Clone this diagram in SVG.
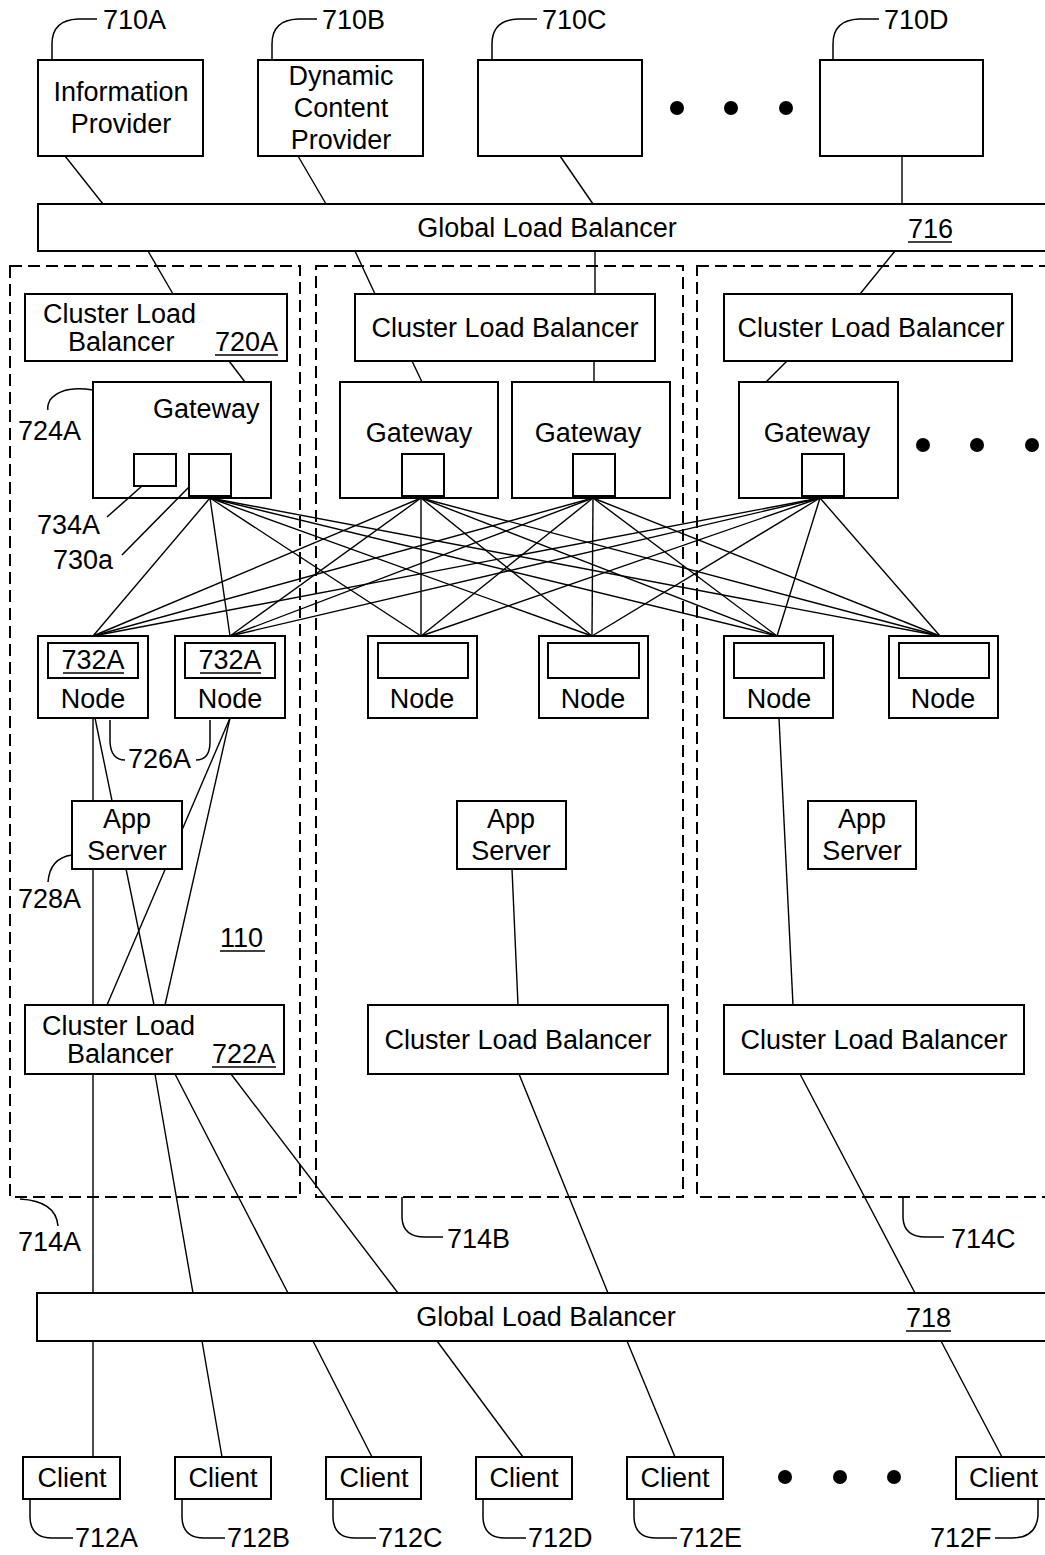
<svg xmlns="http://www.w3.org/2000/svg" width="1045" height="1555" viewBox="0 0 1045 1555">
<style>
text{font-family:"Liberation Sans",Arial,sans-serif;font-size:27px;fill:#000}
.m{text-anchor:middle}
.box{fill:#fff;stroke:#000;stroke-width:2}
.inner{fill:#fff;stroke:#000;stroke-width:2}
.cl{fill:none;stroke:#000;stroke-width:2;stroke-dasharray:12 6}
.ln{fill:none;stroke:#000;stroke-width:1.4}
.ld{fill:none;stroke:#000;stroke-width:1.5}
.ul{stroke:#000;stroke-width:1.5}
</style>
<rect width="1045" height="1555" fill="#fff"/>

<g id="clusters">
<rect id="cluster-714A" class="cl" x="10" y="266" width="290" height="931"/>
<rect id="cluster-714B" class="cl" x="316" y="266" width="367" height="931"/>
<rect id="cluster-714C" class="cl" x="697" y="266" width="370" height="931"/>
</g>

<g id="connectors">
<line class="ln" x1="65" y1="156" x2="103" y2="204"/>
<line class="ln" x1="298" y1="156" x2="326" y2="204"/>
<line class="ln" x1="560" y1="156" x2="593" y2="204"/>
<line class="ln" x1="902" y1="156" x2="902" y2="204"/>
<line class="ln" x1="148" y1="251" x2="173" y2="294"/>
<line class="ln" x1="355" y1="251" x2="375" y2="294"/>
<line class="ln" x1="595" y1="251" x2="595" y2="294"/>
<line class="ln" x1="895" y1="251" x2="860" y2="294"/>
<line class="ln" x1="229" y1="361" x2="245" y2="382"/>
<line class="ln" x1="412" y1="361" x2="422" y2="382"/>
<line class="ln" x1="594" y1="361" x2="594" y2="382"/>
<line class="ln" x1="787" y1="361" x2="766" y2="382"/>
<g id="mesh">
<line class="ln" x1="210" y1="498" x2="93" y2="636"/><line class="ln" x1="210" y1="498" x2="230" y2="636"/><line class="ln" x1="210" y1="498" x2="421" y2="636"/><line class="ln" x1="210" y1="498" x2="592" y2="636"/><line class="ln" x1="210" y1="498" x2="777" y2="636"/><line class="ln" x1="210" y1="498" x2="940" y2="636"/>
<line class="ln" x1="421" y1="498" x2="93" y2="636"/><line class="ln" x1="421" y1="498" x2="230" y2="636"/><line class="ln" x1="421" y1="498" x2="421" y2="636"/><line class="ln" x1="421" y1="498" x2="592" y2="636"/><line class="ln" x1="421" y1="498" x2="777" y2="636"/><line class="ln" x1="421" y1="498" x2="940" y2="636"/>
<line class="ln" x1="593" y1="498" x2="93" y2="636"/><line class="ln" x1="593" y1="498" x2="230" y2="636"/><line class="ln" x1="593" y1="498" x2="421" y2="636"/><line class="ln" x1="593" y1="498" x2="592" y2="636"/><line class="ln" x1="593" y1="498" x2="777" y2="636"/><line class="ln" x1="593" y1="498" x2="940" y2="636"/>
<line class="ln" x1="820" y1="498" x2="93" y2="636"/><line class="ln" x1="820" y1="498" x2="230" y2="636"/><line class="ln" x1="820" y1="498" x2="421" y2="636"/><line class="ln" x1="820" y1="498" x2="592" y2="636"/><line class="ln" x1="820" y1="498" x2="777" y2="636"/><line class="ln" x1="820" y1="498" x2="940" y2="636"/>
</g>
<line class="ln" x1="93" y1="718" x2="93" y2="1457"/>
<line class="ln" x1="95" y1="718" x2="154" y2="1005"/>
<line class="ln" x1="230" y1="718" x2="107" y2="1005"/>
<line class="ln" x1="230" y1="718" x2="165" y2="1005"/>
<line class="ln" x1="512" y1="869" x2="518" y2="1005"/>
<line class="ln" x1="779" y1="718" x2="793" y2="1005"/>
<line class="ln" x1="155" y1="1074" x2="193" y2="1293"/>
<line class="ln" x1="175" y1="1074" x2="288" y2="1293"/>
<line class="ln" x1="231" y1="1074" x2="398" y2="1293"/>
<line class="ln" x1="519" y1="1074" x2="608" y2="1293"/>
<line class="ln" x1="800" y1="1074" x2="915" y2="1293"/>
<line class="ln" x1="202" y1="1341" x2="222" y2="1457"/>
<line class="ln" x1="313" y1="1341" x2="372" y2="1457"/>
<line class="ln" x1="437" y1="1341" x2="523" y2="1457"/>
<line class="ln" x1="627" y1="1341" x2="675" y2="1457"/>
<line class="ln" x1="941" y1="1341" x2="1002" y2="1457"/>
</g>

<g id="provider-710A"><rect class="box" x="38" y="60" width="165" height="96"/><text class="m" x="121" y="101">Information</text><text class="m" x="121" y="133">Provider</text></g>
<g id="provider-710B"><rect class="box" x="258" y="60" width="165" height="96"/><text class="m" x="341" y="85">Dynamic</text><text class="m" x="341" y="117">Content</text><text class="m" x="341" y="149">Provider</text></g>
<g id="provider-710C"><rect class="box" x="478" y="60" width="164" height="96"/></g>
<g id="provider-710D"><rect class="box" x="820" y="60" width="163" height="96"/></g>
<g id="dots-top"><circle cx="677" cy="108" r="7"/><circle cx="731" cy="108" r="7"/><circle cx="786" cy="108" r="7"/></g>

<g id="glb-716"><rect class="box" x="38" y="204" width="1020" height="47"/><text class="m" x="547" y="237">Global Load Balancer</text><text x="908" y="238">716</text><line class="ul" x1="908" y1="242" x2="952" y2="242"/></g>

<g id="clb-720A"><rect class="box" x="25" y="294" width="262" height="67"/><text x="43" y="323">Cluster Load</text><text x="68" y="351">Balancer</text><text x="215" y="351">720A</text><line class="ul" x1="215" y1="355" x2="278" y2="355"/></g>
<g id="clb-B-top"><rect class="box" x="355" y="294" width="300" height="67"/><text class="m" x="505" y="337">Cluster Load Balancer</text></g>
<g id="clb-C-top"><rect class="box" x="724" y="294" width="288" height="67"/><text class="m" x="871" y="337">Cluster Load Balancer</text></g>

<g id="gateway-724A"><rect class="box" x="93" y="382" width="178" height="116"/><text x="153" y="418">Gateway</text><rect class="inner" x="134" y="454" width="42" height="32"/><rect class="inner" x="189" y="454" width="42" height="42"/></g>
<g id="gateway-B1"><rect class="box" x="340" y="382" width="158" height="116"/><text class="m" x="419" y="442">Gateway</text><rect class="inner" x="402" y="454" width="42" height="42"/></g>
<g id="gateway-B2"><rect class="box" x="512" y="382" width="158" height="116"/><text class="m" x="588" y="442">Gateway</text><rect class="inner" x="573" y="454" width="42" height="42"/></g>
<g id="gateway-C"><rect class="box" x="739" y="382" width="159" height="116"/><text class="m" x="817" y="442">Gateway</text><rect class="inner" x="802" y="454" width="42" height="42"/></g>
<g id="dots-gw"><circle cx="923" cy="445" r="7"/><circle cx="977" cy="445" r="7"/><circle cx="1032" cy="445" r="7"/></g>

<g id="node-1"><rect class="box" x="38" y="636" width="110" height="82"/><rect class="inner" x="48" y="643" width="90" height="35"/><text class="m" x="93" y="669">732A</text><line class="ul" x1="63" y1="673" x2="124" y2="673"/><text class="m" x="93" y="708">Node</text></g>
<g id="node-2"><rect class="box" x="175" y="636" width="110" height="82"/><rect class="inner" x="185" y="643" width="90" height="35"/><text class="m" x="230" y="669">732A</text><line class="ul" x1="200" y1="673" x2="261" y2="673"/><text class="m" x="230" y="708">Node</text></g>
<g id="node-3"><rect class="box" x="368" y="636" width="109" height="82"/><rect class="inner" x="378" y="643" width="90" height="35"/><text class="m" x="422" y="708">Node</text></g>
<g id="node-4"><rect class="box" x="539" y="636" width="109" height="82"/><rect class="inner" x="548" y="643" width="91" height="35"/><text class="m" x="593" y="708">Node</text></g>
<g id="node-5"><rect class="box" x="724" y="636" width="109" height="82"/><rect class="inner" x="734" y="643" width="90" height="35"/><text class="m" x="779" y="708">Node</text></g>
<g id="node-6"><rect class="box" x="889" y="636" width="109" height="82"/><rect class="inner" x="899" y="643" width="90" height="35"/><text class="m" x="943" y="708">Node</text></g>

<g id="app-728A"><rect class="box" x="72" y="801" width="110" height="68"/><text class="m" x="127" y="828">App</text><text class="m" x="127" y="860">Server</text></g>
<g id="app-B"><rect class="box" x="457" y="801" width="109" height="68"/><text class="m" x="511" y="828">App</text><text class="m" x="511" y="860">Server</text></g>
<g id="app-C"><rect class="box" x="808" y="801" width="108" height="68"/><text class="m" x="862" y="828">App</text><text class="m" x="862" y="860">Server</text></g>

<g id="label-110"><text x="220" y="947">110</text><line class="ul" x1="220" y1="951" x2="265" y2="951"/></g>

<g id="clb-722A"><rect class="box" x="25" y="1005" width="259" height="69"/><text x="42" y="1035">Cluster Load</text><text x="67" y="1063">Balancer</text><text x="212" y="1063">722A</text><line class="ul" x1="212" y1="1067" x2="276" y2="1067"/></g>
<g id="clb-B-bottom"><rect class="box" x="368" y="1005" width="300" height="69"/><text class="m" x="518" y="1049">Cluster Load Balancer</text></g>
<g id="clb-C-bottom"><rect class="box" x="724" y="1005" width="300" height="69"/><text class="m" x="874" y="1049">Cluster Load Balancer</text></g>

<g id="glb-718"><rect class="box" x="37" y="1293" width="1020" height="48"/><text class="m" x="546" y="1326">Global Load Balancer</text><text x="906" y="1327">718</text><line class="ul" x1="906" y1="1331" x2="951" y2="1331"/></g>

<g id="client-712A"><rect class="box" x="23" y="1457" width="97" height="42"/><text class="m" x="72" y="1487">Client</text></g>
<g id="client-712B"><rect class="box" x="175" y="1457" width="96" height="42"/><text class="m" x="223" y="1487">Client</text></g>
<g id="client-712C"><rect class="box" x="326" y="1457" width="95" height="42"/><text class="m" x="374" y="1487">Client</text></g>
<g id="client-712D"><rect class="box" x="476" y="1457" width="96" height="42"/><text class="m" x="524" y="1487">Client</text></g>
<g id="client-712E"><rect class="box" x="627" y="1457" width="96" height="42"/><text class="m" x="675" y="1487">Client</text></g>
<g id="client-712F"><rect class="box" x="956" y="1457" width="100" height="42"/><text x="969" y="1487">Client</text></g>
<g id="dots-clients"><circle cx="785" cy="1477" r="7"/><circle cx="840" cy="1477" r="7"/><circle cx="894" cy="1477" r="7"/></g>

<g id="labels">
<path class="ld" d="M52,60 L52,44 Q52,20 78,19 L97,19"/><text x="103" y="29">710A</text>
<path class="ld" d="M272,60 L272,44 Q272,20 298,19 L317,19"/><text x="322" y="29">710B</text>
<path class="ld" d="M492,60 L492,44 Q492,20 518,19 L537,19"/><text x="542" y="29">710C</text>
<path class="ld" d="M833,60 L833,44 Q833,20 859,19 L879,19"/><text x="884" y="29">710D</text>
<path class="ld" d="M93,390 Q62,385 50,400 Q47,406 48,410"/><text x="18" y="440">724A</text>
<path class="ld" d="M142,486 L107,517"/><text x="37" y="534">734A</text>
<path class="ld" d="M189,487 L122,555"/><text x="53" y="569">730a</text>
<path class="ld" d="M110,720 L110,742 Q111,760 125,760"/><path class="ld" d="M196,760 Q210,760 210,742 L210,720"/><text x="128" y="768">726A</text>
<path class="ld" d="M72,855 Q50,858 48,882"/><text x="18" y="908">728A</text>
<path class="ld" d="M20,1199 Q56,1201 58,1226"/><text x="18" y="1251">714A</text>
<path class="ld" d="M402,1197 L402,1218 Q403,1237 425,1237 L443,1237"/><text x="447" y="1248">714B</text>
<path class="ld" d="M903,1197 L903,1218 Q904,1237 926,1237 L944,1237"/><text x="951" y="1248">714C</text>
<path class="ld" d="M30,1499 L30,1518 Q31,1538 52,1538 L73,1538"/><text x="75" y="1547">712A</text>
<path class="ld" d="M182,1499 L182,1518 Q183,1538 204,1538 L225,1538"/><text x="227" y="1547">712B</text>
<path class="ld" d="M333,1499 L333,1518 Q334,1538 355,1538 L376,1538"/><text x="378" y="1547">712C</text>
<path class="ld" d="M483,1499 L483,1518 Q484,1538 505,1538 L526,1538"/><text x="528" y="1547">712D</text>
<path class="ld" d="M634,1499 L634,1518 Q635,1538 656,1538 L677,1538"/><text x="679" y="1547">712E</text>
<path class="ld" d="M1038,1499 L1038,1516 Q1036,1538 1012,1538 L995,1538"/><text x="930" y="1547">712F</text>
</g>
</svg>
